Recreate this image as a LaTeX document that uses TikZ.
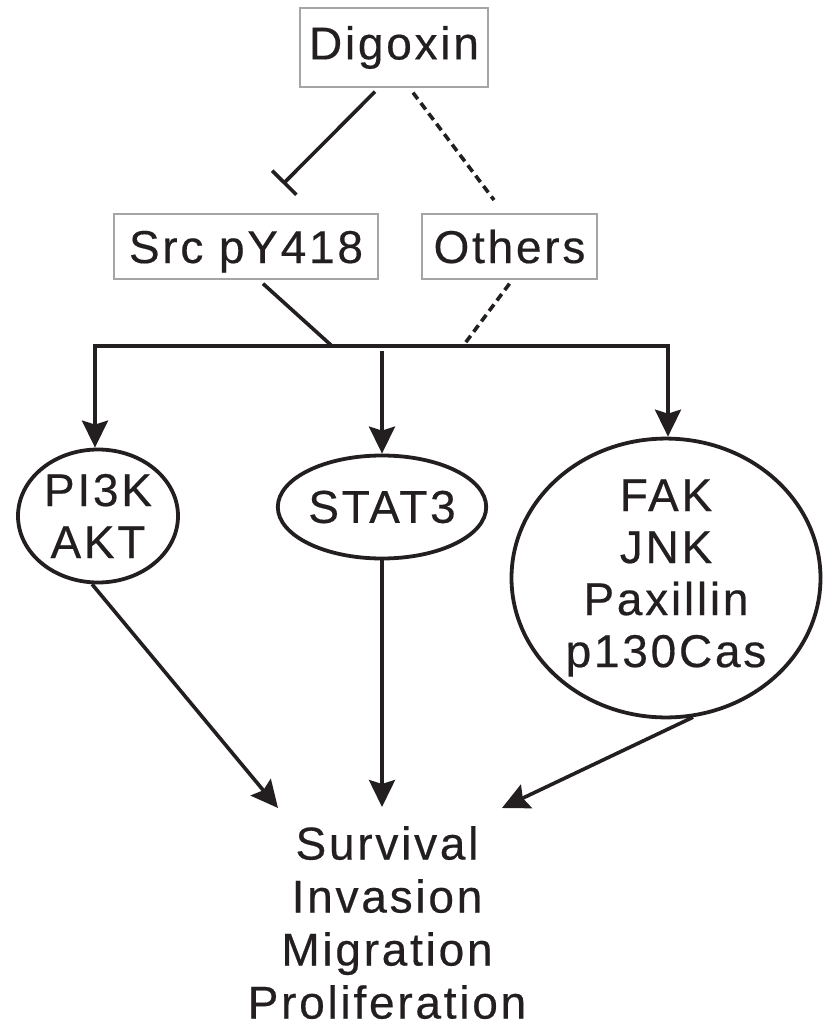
\documentclass[tikz,border=0pt]{standalone}
\usepackage{fontspec}
\setmainfont{Liberation Sans}[LetterSpace=6,FakeBold=0.4]
\usetikzlibrary{arrows.meta,shapes.geometric}
\definecolor{ink}{RGB}{35,31,32}
\definecolor{boxgray}{RGB}{165,165,165}
\tikzset{
  boxnode/.style={draw=boxgray,line width=1.3pt,inner sep=0pt,text=ink,font=\fontsize{46}{52}\selectfont},
  ovalnode/.style={ellipse,draw=ink,line width=3.8pt,inner sep=0pt,align=center,text=ink,font=\fontsize{46}{52}\selectfont},
  conn/.style={draw=ink,line width=3.6pt},
  dashconn/.style={draw=ink,line width=3.6pt,dash pattern=on 8pt off 5pt},
  arr/.style={conn,-{Stealth[length=27pt,width=26pt,inset=4pt]}},
  inhibit/.style={conn,-{Bar[width=34pt,line width=3.6pt]}}
}
\begin{document}
\begin{tikzpicture}[x=1pt,y=-1pt]
\useasboundingbox[fill=white] (0,0) rectangle (825,1025);
% boxes
\node[boxnode,minimum width=188pt,minimum height=79pt] (digoxin) at (394,47.5) {Digoxin};
\node[boxnode,minimum width=264pt,minimum height=65pt,text height=33pt,text depth=0pt] (src) at (246,246.5) {Src pY418};
\node[boxnode,minimum width=175pt,minimum height=65pt,text height=33pt,text depth=0pt] (others) at (509.5,246.5) {Others};
% ellipses
\node[ovalnode,minimum width=160pt,minimum height=133pt] (pi3k) at (98,516) {PI3K\\AKT};
\node[ovalnode,minimum width=177pt,minimum height=103pt] (stat3) at (382,507) {STAT3};
\node[ovalnode,minimum width=309pt,minimum height=250pt] (fak) at (666,578) {FAK\\JNK\\Paxillin\\p130Cas};
% outcome
\node[inner sep=0pt,anchor=north,align=center,text=ink,font=\fontsize{46}{53}\selectfont] (out) at (387,826) {Survival\\Invasion\\Migration\\Proliferation};
% coordinates
\coordinate (inh) at (283,184);
\coordinate (othend) at (494,200);
\coordinate (jl) at (95,346);
\coordinate (jr) at (668,346);
\coordinate (js) at (332,346);
\coordinate (jo) at (463,346);
\coordinate (jm) at (382,351);
\coordinate (t1) at (278,808);
\coordinate (t2) at (382,807);
\coordinate (t3) at (502,808);
% Digoxin links
\draw[inhibit] ([xshift=-19pt,yshift=-4pt]digoxin.south) -- (inh);
\draw[dashconn] ([xshift=19pt,yshift=-5pt]digoxin.south) -- (othend);
% to junction bar
\draw[conn] ([xshift=17pt,yshift=-4pt]src.south) -- (js);
\draw[dashconn] ([xshift=0pt,yshift=-4pt]others.south) -- (jo);
% bar and branches
\draw[arr] (jr) -- (jl) -- (jl |- pi3k.north);
\draw[arr] (jl) -- (jr) -- (jr |- fak.north);
\draw[arr] (jm) -- (stat3.north);
% to outcome
\draw[arr] (pi3k.265) -- (t1);
\draw[arr] (stat3.south) -- (t2);
\draw[arr] (fak.281) -- (t3);
\end{tikzpicture}
\end{document}
